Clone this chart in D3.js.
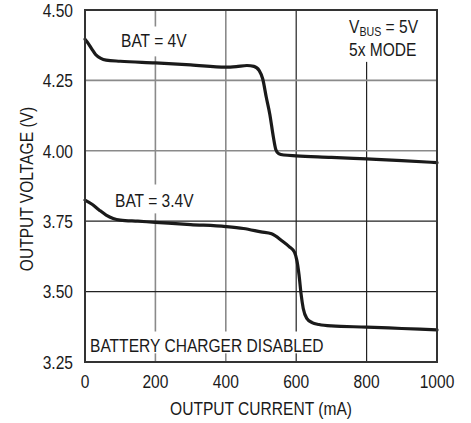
<!DOCTYPE html>
<html>
<head>
<meta charset="utf-8">
<script src="https://cdn.jsdelivr.net/npm/d3@7"></script>
<style>
  html, body { margin: 0; padding: 0; background: #fff; }
  svg { display: block; }
  text { font-family: "Liberation Sans", Arial, sans-serif; fill: #1a1a1a; }
</style>
</head>
<body>
<svg id="chart" width="471" height="423"></svg>
<script>
// ---- data ----
const xTicks = [0, 200, 400, 600, 800, 1000];
const yTicks = [3.25, 3.50, 3.75, 4.00, 4.25, 4.50];
const yTickLabels = ["3.25", "3.50", "3.75", "4.00", "4.25", "4.50"];

const bat4Current = [0, 10, 20, 30, 45, 60, 100, 200, 300, 400, 430, 460, 480, 495, 505, 515, 525, 535, 542, 550, 565, 600, 700, 800, 900, 1000];
const bat4Voltage = [4.396, 4.38, 4.36, 4.342, 4.328, 4.322, 4.318, 4.312, 4.305, 4.297, 4.299, 4.303, 4.300, 4.285, 4.255, 4.19, 4.13, 4.05, 4.005, 3.99, 3.985, 3.982, 3.977, 3.971, 3.965, 3.958];

const bat34Current = [0, 20, 40, 60, 80, 100, 150, 200, 300, 400, 450, 500, 530, 560, 580, 595, 602, 608, 614, 620, 630, 645, 665, 700, 800, 900, 1000];
const bat34Voltage = [3.825, 3.81, 3.79, 3.772, 3.76, 3.754, 3.75, 3.746, 3.738, 3.731, 3.724, 3.712, 3.705, 3.68, 3.66, 3.64, 3.61, 3.56, 3.49, 3.44, 3.405, 3.39, 3.383, 3.378, 3.374, 3.369, 3.364];

// ---- layout ----
const svg = d3.select("#chart");
const plot = { left: 85, right: 437, top: 10, bottom: 362 };
const FS = 19, NARROW = 0.82;
const x = d3.scaleLinear().domain([0, 1000]).range([plot.left, plot.right]);
const y = d3.scaleLinear().domain([3.25, 4.5]).range([plot.bottom, plot.top]);

// gridlines
const grid = svg.append("g");
grid.selectAll("line.v").data(xTicks.slice(1, -1)).join("line")
  .attr("x1", d => x(d)).attr("x2", d => x(d))
  .attr("y1", plot.top).attr("y2", plot.bottom)
  .attr("stroke", d => d < 500 ? "#8a8a8a" : "#222")
  .attr("stroke-width", d => d < 500 ? 1.6 : 1.2);
grid.selectAll("line.h").data(yTicks.slice(1, -1)).join("line")
  .attr("x1", plot.left).attr("x2", plot.right)
  .attr("y1", d => y(d)).attr("y2", d => y(d))
  .attr("stroke", d => d > 3.9 ? "#8a8a8a" : "#222")
  .attr("stroke-width", d => d > 3.9 ? 1.6 : 1.2);

const bgLayer = svg.append("g");
const curveLayer = svg.append("g");
const textLayer = svg.append("g");

// narrow text: group scaled horizontally around its anchor point
function ntext(parent, xp, yp, str, anchor = "start", extra = "") {
  const g = parent.append("g").attr("transform", `translate(${xp},${yp}) ${extra} scale(${NARROW},1)`);
  const t = g.append("text").attr("font-size", FS).attr("text-anchor", anchor);
  if (str !== null) t.text(str);
  return t;
}
function bg(textSel, pad) {
  const b = textSel.node().getBoundingClientRect();
  bgLayer.append("rect")
    .attr("x", b.left - pad.l).attr("y", b.top - pad.t)
    .attr("width", b.width + pad.l + pad.r).attr("height", b.height + pad.t + pad.b)
    .attr("fill", "#fff");
}

const t1 = ntext(textLayer, 121, 47, "BAT = 4V");
bg(t1, { l: 3, r: 3, t: 3, b: 5 });
const t2 = ntext(textLayer, 115, 207, "BAT = 3.4V");
bg(t2, { l: 3, r: 3, t: 5, b: 2 });
const t3 = ntext(textLayer, 90, 352, "BATTERY CHARGER DISABLED");
bg(t3, { l: 3, r: 3, t: 3, b: -3 });

const vb = ntext(textLayer, 349, 32.5, null);
vb.append("tspan").text("V");
vb.append("tspan").attr("font-size", 13).attr("dy", 3).text("BUS");
vb.append("tspan").attr("dy", -3).text(" = 5V");
const t5 = ntext(textLayer, 349, 55.5, "5x MODE");
const b1 = vb.node().getBoundingClientRect(), b2 = t5.node().getBoundingClientRect();
const bx0 = Math.min(b1.left, b2.left) - 3, bx1 = Math.max(b1.right, b2.right) + 3;
bgLayer.append("rect")
  .attr("x", bx0).attr("y", plot.top)
  .attr("width", bx1 - bx0)
  .attr("height", b2.bottom + 2 - plot.top)
  .attr("fill", "#fff");

// curves
const line = d3.line().x(d => x(d[0])).y(d => y(d[1])).curve(d3.curveMonotoneX);
[[bat4Current, bat4Voltage], [bat34Current, bat34Voltage]].forEach(([c, v]) => {
  curveLayer.append("path")
    .datum(c.map((d, i) => [d, v[i]]))
    .attr("d", line)
    .attr("fill", "none")
    .attr("stroke", "#1a1a1a")
    .attr("stroke-width", 3.2)
    .attr("stroke-linejoin", "round")
    .attr("stroke-linecap", "round");
});

// frame
svg.append("rect")
  .attr("x", plot.left).attr("y", plot.top)
  .attr("width", plot.right - plot.left).attr("height", plot.bottom - plot.top)
  .attr("fill", "none").attr("stroke", "#333").attr("stroke-width", 2);

// tick labels
const axG = svg.append("g");
xTicks.forEach(d => ntext(axG, x(d), 388, String(d), "middle"));
yTicks.forEach((d, i) => ntext(axG, 73, y(d) + 0.36 * FS, yTickLabels[i], "end"));

// axis titles
ntext(svg, (plot.left + plot.right) / 2, 415, "OUTPUT CURRENT (mA)", "middle");
ntext(svg, 33, 189, "OUTPUT VOLTAGE (V)", "middle", "rotate(-90)");
</script>
</body>
</html>
